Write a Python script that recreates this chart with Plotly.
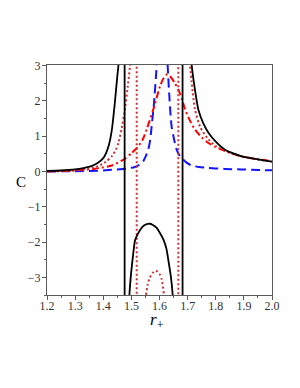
import plotly.graph_objects as go

N = None
# black solid curve (branches separated by None; vertical jumps at poles)
black_r = [1.20, 1.25, 1.30, 1.33, 1.36, 1.38, 1.40, 1.41, 1.42, 1.43, 1.44, 1.45, 1.455, 1.462,
           N, 1.476, 1.476,
           N, 1.490, 1.493, 1.500, 1.507, 1.513, 1.525, 1.535, 1.545, 1.555, 1.565, 1.575, 1.590,
           1.600, 1.614, 1.625, 1.631, 1.640, 1.647, 1.650,
           N, 1.682, 1.682,
           N, 1.702, 1.714, 1.726, 1.738, 1.755, 1.774, 1.800, 1.833, 1.860, 1.892, 1.930, 1.960, 2.000]
black_C = [0.02, 0.03, 0.06, 0.10, 0.16, 0.24, 0.38, 0.52, 0.75, 1.15, 1.85, 2.70, 3.10, 4.5,
           N, 4.5, -4.5,
           N, -4.3, -3.5, -2.8, -2.3, -1.95, -1.74, -1.61, -1.53, -1.49, -1.48, -1.51, -1.60,
           -1.72, -1.93, -2.20, -2.49, -2.95, -3.5, -3.9,
           N, -4.5, 4.5,
           N, 4.5, 3.05, 2.32, 1.76, 1.38, 1.10, 0.85, 0.62, 0.52, 0.43, 0.37, 0.33, 0.28]

# red dotted curve
dot_r = [1.20, 1.30, 1.35, 1.382, 1.41, 1.43, 1.445, 1.454, 1.465, 1.477, 1.487, 1.495, 1.502,
         N, 1.519, 1.519,
         N, 1.548, 1.552, 1.558, 1.566, 1.575, 1.584, 1.592, 1.600, 1.608, 1.616, 1.620,
         N, 1.667, 1.667,
         N, 1.700, 1.708, 1.716, 1.726, 1.745, 1.770, 1.800, 1.833, 1.860, 1.892, 1.930, 2.000]
dot_C = [0.01, 0.04, 0.08, 0.15, 0.28, 0.43, 0.62, 0.81, 1.20, 1.76, 2.40, 2.98, 3.7,
         N, 4.5, -4.5,
         N, -4.0, -3.5, -3.2, -3.0, -2.88, -2.82, -2.83, -2.90, -3.06, -3.5, -3.9,
         N, -4.5, 4.5,
         N, 4.5, 3.05, 2.40, 1.76, 1.25, 0.95, 0.72, 0.60, 0.50, 0.43, 0.37, 0.28]

# red dash-dot curve
dd_r = [1.20, 1.30, 1.371, 1.43, 1.477, 1.50, 1.519, 1.54, 1.554, 1.578, 1.602, 1.615, 1.628,
        1.64, 1.655, 1.667, 1.68, 1.691, 1.708, 1.726, 1.75, 1.774, 1.80, 1.833, 1.86, 1.892, 1.94, 2.00]
dd_C = [0.00, 0.03, 0.08, 0.17, 0.36, 0.52, 0.66, 0.90, 1.19, 1.76, 2.42, 2.65, 2.76,
        2.68, 2.50, 2.32, 2.05, 1.76, 1.45, 1.19, 0.97, 0.81, 0.69, 0.58, 0.50, 0.43, 0.36, 0.29]

# blue dashed curve
blue_r = [1.20, 1.30, 1.40, 1.43, 1.48, 1.513, 1.53, 1.542, 1.552, 1.560, 1.567, 1.572, 1.580,
          1.590, 1.600, 1.610, 1.620, 1.629, 1.636, 1.643, 1.655, 1.661, 1.670, 1.679, 1.695,
          1.714, 1.74, 1.774, 1.83, 1.892, 1.95, 2.00]
blue_C = [0.00, 0.01, 0.03, 0.05, 0.08, 0.13, 0.20, 0.29, 0.45, 0.62, 0.90, 1.28, 1.90,
          3.00, 4.50, 5.00, 4.50, 3.00, 2.00, 1.28, 0.80, 0.62, 0.47, 0.38, 0.26,
          0.17, 0.13, 0.10, 0.075, 0.06, 0.045, 0.035]

x_ticks = [1.2, 1.3, 1.4, 1.5, 1.6, 1.7, 1.8, 1.9, 2.0]
x_labels = ["1.2", "1.3", "1.4", "1.5", "1.6", "1.7", "1.8", "1.9", "2.0"]
y_ticks = [-3, -2, -1, 0, 1, 2, 3]
y_labels = ["\u22123", "\u22122", "\u22121", "0", "1", "2", "3"]

fig = go.Figure()
fig.add_trace(go.Scatter(x=blue_r, y=blue_C, mode="lines",
                         line=dict(color="rgb(20,20,255)", width=2, dash="9px,5px", shape="spline", smoothing=0.6)))
fig.add_trace(go.Scatter(x=dd_r, y=dd_C, mode="lines",
                         line=dict(color="rgb(255,0,0)", width=2, dash="7px,3px,2px,3px", shape="spline", smoothing=0.6)))
fig.add_trace(go.Scatter(x=dot_r, y=dot_C, mode="lines", connectgaps=False,
                         line=dict(color="rgb(200,50,50)", width=2, dash="2px,2.5px", shape="spline", smoothing=0.5)))
fig.add_trace(go.Scatter(x=black_r, y=black_C, mode="lines", connectgaps=False,
                         line=dict(color="black", width=1.8, shape="spline", smoothing=0.5)))

serif = "Liberation Serif, DejaVu Serif, serif"
tickfont = dict(family=serif, size=12, color="rgb(50,50,50)")
fig.update_layout(
    width=292, height=380,
    margin=dict(l=39, r=28, t=57, b=93),
    paper_bgcolor="white", plot_bgcolor="white",
    showlegend=False,
    xaxis=dict(range=[1.2, 2.0], tickvals=x_ticks, ticktext=x_labels, ticks="outside", ticklen=4,
               tickcolor="rgb(90,90,90)", showgrid=False, zeroline=False, showline=True, mirror=True,
               linecolor="rgb(90,90,90)", linewidth=1.2, tickfont=tickfont, ticklabelstandoff=-5,
               minor=dict(dtick=0.05, tick0=1.2, ticks="outside", ticklen=2, tickcolor="rgb(90,90,90)")),
    yaxis=dict(range=[-3.5, 3.02], tickvals=y_ticks, ticktext=y_labels, ticks="outside", ticklen=4,
               tickcolor="rgb(90,90,90)", showgrid=False, zeroline=False, showline=True, mirror=True,
               linecolor="rgb(90,90,90)", linewidth=1.2, tickfont=tickfont, ticklabelstandoff=-1,
               minor=dict(dtick=0.5, tick0=0, ticks="outside", ticklen=2, tickcolor="rgb(90,90,90)")),
    annotations=[
        dict(text="C", x=-0.116, y=0.491, xref="paper", yref="paper", showarrow=False,
             xanchor="center", yanchor="middle",
             font=dict(family=serif, size=15, color="black")),
        dict(text="<i>r</i><sub>+</sub>", x=0.49, y=-0.115, xref="paper", yref="paper", showarrow=False,
             xanchor="center", yanchor="middle",
             font=dict(family=serif, size=17, color="black")),
    ],
)

fig.write_html("out.html")
